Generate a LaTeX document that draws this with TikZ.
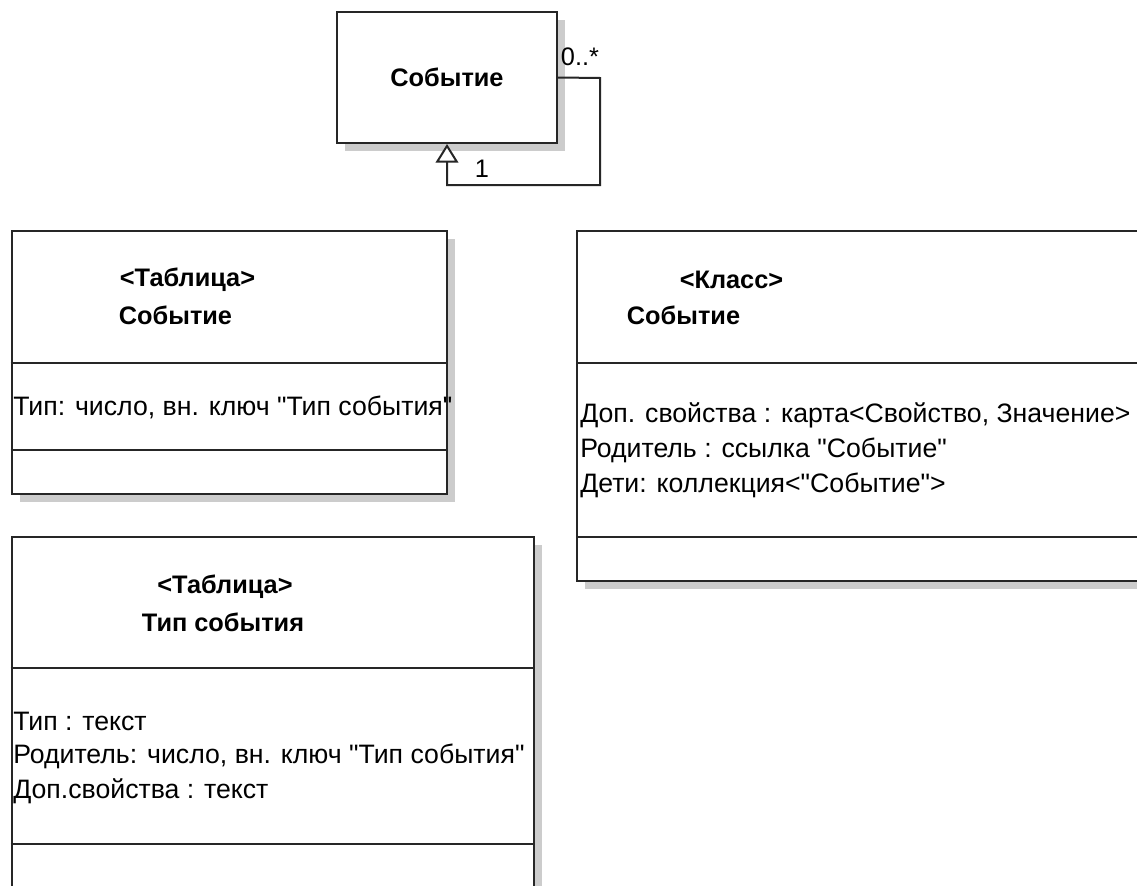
\documentclass[tikz,border=0pt]{standalone}
\usepackage{fontspec}
\setmainfont{Liberation Sans}[Ligatures=TeXOff]
\usetikzlibrary{arrows.meta,shadows}
\begin{document}
\begin{tikzpicture}[x=0.75pt,y=-0.75pt,
  umlbox/.style={draw=black!85, line width=1.5pt, fill=white, inner sep=0pt,
    drop shadow={shadow xshift=6pt, shadow yshift=-6pt, fill=black!20, opacity=1}},
  divider/.style={draw=black!85, line width=1.5pt},
  title/.style={font=\fontsize{19}{23}\selectfont\bfseries, inner sep=0pt},
  attr/.style={font=\fontsize{20}{24}\selectfont, inner sep=0pt, anchor=west},
  mult/.style={font=\fontsize{19}{23}\selectfont, inner sep=0pt},
  link/.style={draw=black!85, line width=1.5pt}]
\useasboundingbox (0,0) rectangle (1137,885);
\clip (0,0) rectangle (1137,885);
\fill[white] (0,0) rectangle (1137,885);

% class "Событие" with a self association
\node[umlbox, title, minimum width=165pt, minimum height=98.25pt] (ev) at (447,77.5) {Событие};
\coordinate (r1) at (600,78);
\coordinate (r2) at (600,185);
\coordinate (r3) at (447,185);
\draw[link, -{Triangle[fill=white, width=17pt, length=14pt]}] (ev.east) -- (r1) -- (r2) -- (r3) -- (ev.south);
\node[mult, anchor=center] (m1) at (580,57) {0..*};
\node[mult, anchor=center] (m2) at (482,169) {1};

% table "Событие"
\node[umlbox, minimum width=326.6pt, minimum height=197.25pt] (t1) at (229.25,362.5) {};
\draw[divider] (t1.west |- 0,363) -- (t1.east |- 0,363);
\draw[divider] (t1.west |- 0,450) -- (t1.east |- 0,450);
\node[title] (t1a) at (187.5,280) {<Таблица>};
\node[title] (t1b) at (175.5,315) {Событие};
\node[attr] (t1c) at (13,407) {Тип: число, вн. ключ "Тип события"};

% class "Событие" in code
\node[umlbox, minimum width=436.9pt, minimum height=262.5pt] (k1) at (868.75,406) {};
\draw[divider] (k1.west |- 0,363) -- (k1.east |- 0,363);
\draw[divider] (k1.west |- 0,537) -- (k1.east |- 0,537);
\node[title] (k1a) at (731.5,280) {<Класс>};
\node[title] (k1b) at (683.5,315) {Событие};
\node[attr] (k1c) at (580,415) {Доп. свойства : карта<Свойство, Значение>};
\node[attr] (k1d) at (580,450) {Родитель : ссылка "Событие"};
\node[attr] (k1e) at (580,485) {Дети: коллекция<"Событие">};

% table "Тип события"
\node[umlbox, minimum width=391.5pt, minimum height=279.4pt] (t2) at (272.5,723.75) {};
\draw[divider] (t2.west |- 0,668) -- (t2.east |- 0,668);
\draw[divider] (t2.west |- 0,844) -- (t2.east |- 0,844);
\node[title] (t2a) at (225,587) {<Таблица>};
\node[title] (t2b) at (223,622) {Тип события};
\node[attr] (t2c) at (13,721) {Тип : текст};
\node[attr] (t2d) at (13,756) {Родитель: число, вн. ключ "Тип события"};
\node[attr] (t2e) at (13,791) {Доп.свойства : текст};
\end{tikzpicture}
\end{document}
